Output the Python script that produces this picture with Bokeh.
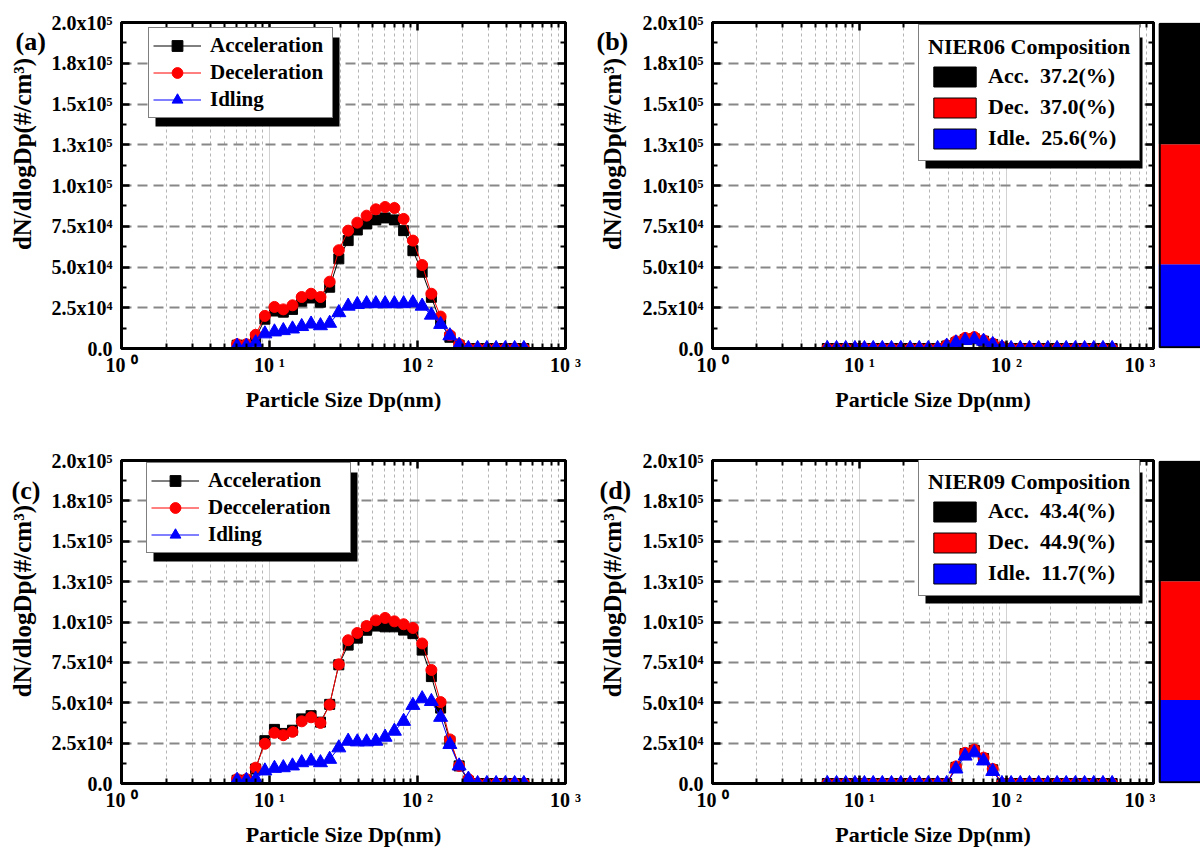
import math
from bokeh.plotting import figure
from bokeh.layouts import row, column
from bokeh.models import (FixedTicker, LinearAxis, LogAxis, Legend, LegendItem,
                          BoxAnnotation, Range1d, ColumnDataSource,
                          CustomJSTickFormatter)
from bokeh.core.properties import value
from bokeh.embed import file_html
from bokeh.resources import INLINE

FONT = "Liberation Serif"
NAN = float("nan")

# FMPS channel mid-point diameters (nm)
dp_nm = [6.04, 6.98, 8.06, 9.31, 10.8, 12.4, 14.3, 16.5, 19.1, 22.1, 25.5, 29.4,
         34.0, 39.2, 45.3, 52.3, 60.4, 69.8, 80.6, 93.1, 107.5, 124.1, 143.3,
         165.5, 191.1, 220.7, 254.8, 294.3, 339.8, 392.4, 453.2, 523.3]

# (a)
a_acc = [2000, 2000, 6500, 18000, 23000, 22300, 24000, 29000, 31000, 28400, 37600, 55000,
         66200, 72700, 76400, 78900, 80100, 78900, 72300, 60000, 46800, 31400, 16100,
         6900, 2000, 0, 0, 0, 0, 0, 0, 0]
a_dec = [2600, 2600, 8400, 20000, 25500, 24000, 26500, 31600, 33600, 31600, 41000, 60300,
         72300, 77200, 81500, 85400, 86800, 86200, 79500, 66200, 51200, 33600, 19600,
         8200, 2700, 0, 0, 0, 0, 0, 0, 0]
a_idle = [1500, 1500, 3500, 9000, 10200, 11000, 12000, 13500, 15000, 14000, 15500, 22000,
          26000, 27000, 27500, 27500, 27500, 27500, 27500, 28000, 26000, 20500, 14800,
          7800, 2000, 0, 0, 0, 0, 0, 0, 0]

# (b)
b_acc = [0, 0, 0, 0, 0, 0, 0, 0, 0, 0, 0, 0,
         0, 1500, 3500, 5500, 6000, 4500, 2500, 500, 0, 0, 0,
         0, 0, 0, 0, 0, 0, 0, 0, 0]
b_dec = [0, 0, 0, 0, 0, 0, 0, 0, 0, 0, 0, 0,
         0, 2000, 4500, 6500, 7000, 5000, 3000, 1000, 0, 0, 0,
         0, 0, 0, 0, 0, 0, 0, 0, 0]
b_idle = [0, 0, 0, 0, 0, 0, 0, 0, 0, 0, 0, 0,
          0, 1500, 3500, 5000, 5500, 4500, 2500, 500, 0, 0, 0,
          0, 0, 0, 0, 0, 0, 0, 0, 0]

# (c)
c_acc = [2000, 2000, 9000, 26500, 33500, 31000, 33000, 40000, 42000, 38000, 49000, 73500,
         85700, 90000, 94900, 97500, 97000, 97000, 95000, 92800, 82600, 66200, 46700,
         26200, 10900, 1500, 0, 0, 0, 0, 0, 0]
c_dec = [2700, 2700, 9800, 24600, 31400, 29900, 32000, 38500, 41000, 37500, 48800, 73800,
         88700, 93200, 97500, 101000, 102500, 100400, 98600, 96300, 86700, 70300, 50400,
         27300, 10900, 2700, 0, 0, 0, 0, 0, 0]
c_idle = [2000, 2000, 2700, 7800, 9400, 9800, 10900, 12900, 13900, 12900, 15000, 22100,
          26200, 25800, 25800, 26200, 28700, 32400, 38500, 48400, 52500, 50800, 41000,
          24200, 10900, 2700, 0, 0, 0, 0, 0, 0]

# (d)
d_acc = [0, 0, 0, 0, 0, 0, 0, 0, 0, 0, 0, 0,
         0, 0, 10000, 18500, 20500, 15500, 8500, 0, 0, 0, 0,
         0, 0, 0, 0, 0, 0, 0, 0, 0]
d_dec = [0, 0, 0, 0, 0, 0, 0, 0, 0, 0, 0, 0,
         0, 0, 10600, 19000, 21000, 16000, 9000, 0, 0, 0, 0,
         0, 0, 0, 0, 0, 0, 0, 0, 0]
d_idle = [0, 0, 0, 0, 0, 0, 0, 0, 0, 0, 0, 0,
          0, 0, 9000, 17000, 19000, 14000, 7500, 0, 0, 0, 0,
          0, 0, 0, 0, 0, 0, 0, 0, 0]

series_names_ab = ["Acceleration", "Deceleration", "Idling"]
series_names_cd = ["Acceleration", "Decceleration", "Idling"]

comp_names = ["Acc.", "Dec.", "Idle."]
comp_b = [37.2, 37.0, 25.6]
comp_d = [43.4, 44.9, 11.7]
comp_colors = ["black", "red", "blue"]
# stacked side bars as drawn (the bar next to (d) is drawn with the same shares as (b))
bar_b = [37.2, 37.0, 25.6]
bar_d = [37.2, 37.0, 25.6]

x_ticks = [1, 10, 100, 1000]
x_tick_labels = ["10 \u2070", "10 \u00b9", "10 \u00b2", "10 \u00b3"]
x_minor = [m * d for d in (1, 10, 100) for m in (2, 3, 4, 5, 6, 7, 8, 9)]
y_ticks = [0, 25000, 50000, 75000, 100000, 125000, 150000, 175000, 200000]
y_tick_labels = ["0.0", "2.5x10\u2074", "5.0x10\u2074", "7.5x10\u2074", "1.0x10\u2075",
                 "1.3x10\u2075", "1.5x10\u2075", "1.8x10\u2075", "2.0x10\u2075"]
y_minor = [12500, 37500, 62500, 87500, 112500, 137500, 162500, 187500]

x_title = "Particle Size Dp(nm)"
y_title = "dN/dlogDp(#/cm\u00b3)"

panel_letters = ["(a)", "(b)", "(c)", "(d)"]


def style_axis(ax, show_labels=True):
    ax.axis_line_color = "black"
    ax.axis_line_width = 3
    ax.major_tick_in = 8
    ax.major_tick_out = 0
    ax.minor_tick_in = 5
    ax.minor_tick_out = 0
    ax.major_tick_line_width = 2.5
    ax.minor_tick_line_width = 2
    ax.major_tick_line_color = "black"
    ax.minor_tick_line_color = "black"
    if show_labels:
        ax.major_label_text_font = FONT
        ax.major_label_text_font_style = "bold"
        ax.major_label_text_font_size = "20px"
        ax.major_label_text_color = "black"
    else:
        ax.formatter = CustomJSTickFormatter(code="return ''")
        ax.major_label_text_font_size = "0px"
        ax.major_label_standoff = 0


def make_side(width, top_row, letter, letter_x, title_x):
    """Narrow strip left of a panel holding the panel letter and the y-axis title."""
    height = 424 if top_row else 425
    s = figure(width=width, height=height, x_range=Range1d(0, width),
               y_range=Range1d(0, height), x_axis_location=None, y_axis_location=None,
               output_backend="svg", toolbar_location=None,
               min_border_left=0, min_border_right=0, min_border_top=0, min_border_bottom=0)
    s.outline_line_color = None
    s.grid.visible = False
    # frame top / frame height of the neighbouring panel (pixels from the strip top)
    ftop = 22 if top_row else 36
    fh = 326
    s.text(x=[letter_x], y=[height - ftop - 3], text=[letter],
           text_font=value(FONT), text_font_style="bold", text_font_size="26px",
           text_color="black", text_align="left", text_baseline="middle")
    s.text(x=[title_x], y=[height - ftop - fh / 2 + 14], text=[y_title],
           angle=math.pi / 2, text_font=value(FONT), text_font_style="bold",
           text_font_size="25px", text_color="black", text_align="center",
           text_baseline="middle")
    return s


def make_panel(acc, dec, idle, names, top_row, width, border_right, legend_kind, comp=None):
    height = 424 if top_row else 425
    p = figure(width=width, height=height, x_axis_type="log",
               x_range=Range1d(1, 1000), y_range=Range1d(0, 200000),
               output_backend="svg", toolbar_location=None,
               min_border_left=74,
               min_border_right=border_right,
               min_border_top=22 if top_row else 36,
               min_border_bottom=76 if top_row else 63)
    p.outline_line_color = "black"
    p.outline_line_width = 3

    xt = FixedTicker(ticks=x_ticks, minor_ticks=x_minor)
    yt = FixedTicker(ticks=y_ticks, minor_ticks=y_minor)
    xa = p.xaxis[0]
    ya = p.yaxis[0]
    xa.ticker = xt
    ya.ticker = yt
    xa.major_label_overrides = dict(zip(x_ticks, x_tick_labels))
    ya.major_label_overrides = dict(zip(y_ticks, y_tick_labels))
    style_axis(xa)
    style_axis(ya)
    xa.major_label_standoff = 5
    ya.major_label_standoff = 9
    xa.axis_label = x_title
    xa.axis_label_text_font = FONT
    xa.axis_label_text_font_style = "bold"
    xa.axis_label_text_color = "black"
    xa.axis_label_text_font_size = "22px"
    xa.axis_label_standoff = 8

    top = LogAxis(ticker=xt)
    style_axis(top, show_labels=False)
    p.add_layout(top, "above")
    right = LinearAxis(ticker=yt)
    style_axis(right, show_labels=False)
    p.add_layout(right, "right")

    p.xgrid.grid_line_color = "#d2d2d2"
    p.xgrid.grid_line_width = 1
    p.xgrid.minor_grid_line_color = "#b4b4b4"
    p.xgrid.minor_grid_line_dash = "3 3"
    p.xgrid.minor_grid_line_width = 1
    p.ygrid.grid_line_color = "#888888"
    p.ygrid.grid_line_width = 2
    p.ygrid.grid_line_dash = "10 6"

    src = ColumnDataSource(dict(dp=dp_nm, acc=acc, dec=dec, idle=idle))
    lk = p.line("dp", "acc", source=src, line_color="black", line_width=1)
    sk = p.scatter("dp", "acc", source=src, marker="square", size=10,
                   fill_color="black", line_color="black")
    lr = p.line("dp", "dec", source=src, line_color="red", line_width=1)
    sr = p.scatter("dp", "dec", source=src, marker="circle", size=11,
                   fill_color="red", line_color="red")
    lb = p.line("dp", "idle", source=src, line_color="blue", line_width=1)
    sb = p.scatter("dp", "idle", source=src, marker="triangle", size=14,
                   fill_color="blue", line_color="blue")

    fh = 326
    if legend_kind == "series":
        lx = 27 if top_row else 25
        lh = 89
        lw = 183 if top_row else 203
        ly = fh - 7 - lh
        shadow = BoxAnnotation(left=lx + 7, right=lx + lw + 8, bottom=ly - 8, top=ly + lh - 8,
                               left_units="screen", right_units="screen",
                               top_units="screen", bottom_units="screen",
                               fill_color="black", fill_alpha=1, line_color=None)
        p.add_layout(shadow)
        items = [LegendItem(label=names[0], renderers=[lk, sk]),
                 LegendItem(label=names[1], renderers=[lr, sr]),
                 LegendItem(label=names[2], renderers=[lb, sb])]
        leg = Legend(items=items, location=(lx, ly), orientation="vertical",
                     border_line_color="black", border_line_width=1.5,
                     background_fill_color="white", background_fill_alpha=1,
                     label_text_font=FONT, label_text_font_style="bold",
                     label_text_font_size="21px", label_text_color="black",
                     glyph_width=48, glyph_height=27, label_standoff=9,
                     label_width=lw - 65,
                     padding=4, spacing=0, margin=0)
        p.add_layout(leg)
    else:
        lx = 206
        lh = 131
        lw = 217
        ly = fh - 8 - lh
        shadow = BoxAnnotation(left=lx + 7, right=lx + lw + 7, bottom=ly - 7, top=ly + lh - 7,
                               left_units="screen", right_units="screen",
                               top_units="screen", bottom_units="screen",
                               fill_color="black", fill_alpha=1, line_color=None)
        p.add_layout(shadow)
        title, values = comp
        items = []
        for nm, val, col in zip(comp_names, values, comp_colors):
            proxy = p.quad(left=[NAN], right=[NAN], top=[NAN], bottom=[NAN], fill_color=col,
                           line_color="black", line_width=1)
            items.append(LegendItem(label=f"{nm}\u00a0 {val:.1f}(%)", renderers=[proxy]))
        leg = Legend(items=items, location=(lx, ly), orientation="vertical",
                     title=title, title_text_font=FONT, title_text_font_style="bold",
                     title_text_font_size="22px", title_text_color="black",
                     title_standoff=3,
                     border_line_color="black", border_line_width=1.5,
                     background_fill_color="white", background_fill_alpha=1,
                     label_text_font=FONT, label_text_font_style="bold",
                     label_text_font_size="22px", label_text_color="black",
                     glyph_width=53, glyph_height=25, label_standoff=7,
                     label_width=lw - 78,
                     padding=9, spacing=5, margin=0)
        p.add_layout(leg)
    return p


def make_bar(shares, top_row):
    height = 424 if top_row else 425
    total = sum(shares)
    b = figure(width=45, height=height, x_range=Range1d(0, 1),
               y_range=Range1d(-0.4, total + 0.4),
               x_axis_location=None, y_axis_location=None,
               output_backend="svg", toolbar_location=None,
               min_border_left=3, min_border_right=0,
               min_border_top=22 if top_row else 36,
               min_border_bottom=76 if top_row else 63)
    b.outline_line_color = None
    b.grid.visible = False
    # stack from the bottom: Idle, Dec, Acc
    order = [2, 1, 0]
    bottoms, tops, cols = [], [], []
    acc_sum = 0.0
    for i in order:
        bottoms.append(acc_sum)
        acc_sum += shares[i]
        tops.append(acc_sum)
        cols.append(comp_colors[i])
    b.quad(left=0, right=2, bottom=bottoms, top=tops, fill_color=cols, line_color=None)
    b.quad(left=0.03, right=2, bottom=0, top=total, fill_color=None,
           line_color="black", line_width=2)
    return b


sa = make_side(47, True, panel_letters[0], 15, 22)
pa = make_panel(a_acc, a_dec, a_idle, series_names_ab, True, 543, 25, "series")
sb_ = make_side(48, True, panel_letters[1], 6, 22)
pb = make_panel(b_acc, b_dec, b_idle, series_names_ab, True, 517, 2, "comp",
                comp=("NIER06 Composition", comp_b))
bb = make_bar(bar_b, True)

sc = make_side(47, False, panel_letters[2], 11, 22)
pc = make_panel(c_acc, c_dec, c_idle, series_names_cd, False, 543, 25, "series")
sd = make_side(48, False, panel_letters[3], 9, 22)
pd = make_panel(d_acc, d_dec, d_idle, series_names_cd, False, 517, 2, "comp",
                comp=("NIER09 Composition", comp_d))
bd = make_bar(bar_d, False)

layout = column(row(sa, pa, sb_, pb, bb, spacing=0),
                row(sc, pc, sd, pd, bd, spacing=0), spacing=0)

with open("out.html", "w") as f:
    f.write(file_html(layout, INLINE))
